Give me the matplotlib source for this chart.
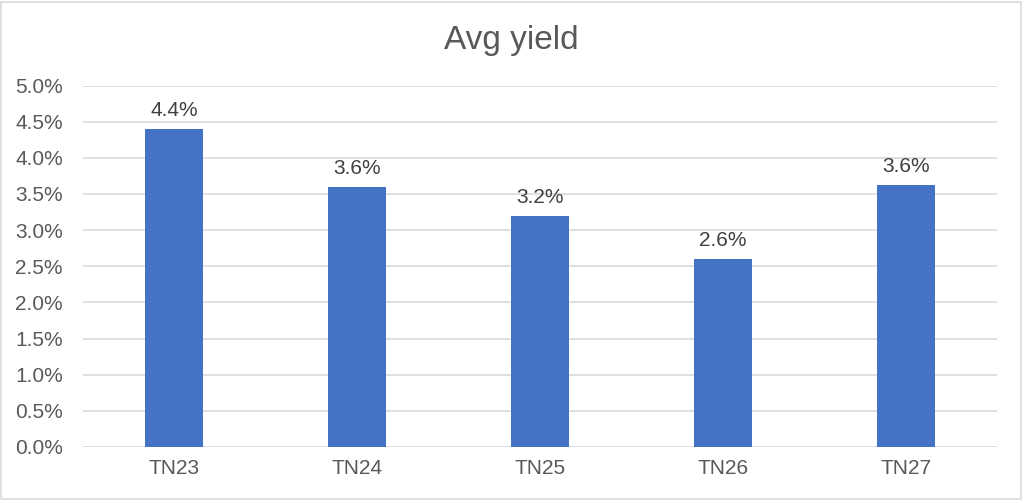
import matplotlib
matplotlib.use("Agg")
import matplotlib.pyplot as plt
from matplotlib.patches import Rectangle
from matplotlib.ticker import PercentFormatter

categories = ["TN23", "TN24", "TN25", "TN26", "TN27"]
values = [4.40, 3.60, 3.20, 2.60, 3.63]
labels = ["4.4%", "3.6%", "3.2%", "2.6%", "3.6%"]

plt.rcParams['font.family'] = ['Liberation Sans', 'DejaVu Sans']
fig = plt.figure(figsize=(10.23, 5.0), dpi=100)
ax = fig.add_axes([83/1023, 1-447/500, (997-83)/1023, (447-85.5)/500])

x = range(len(categories))
ax.bar(x, values, width=0.317, color="#4472C4", zorder=3)
for xi, v, lab in zip(x, values, labels):
    ax.text(xi, v + 0.12, lab, ha="center", va="bottom", fontsize=15, color="#404040")

ax.set_xlim(-0.5, len(categories) - 0.5)
ax.set_ylim(0, 5.0)
ax.set_yticks([i * 0.5 for i in range(11)])
ax.yaxis.set_major_formatter(PercentFormatter(decimals=1))
ax.set_xticks(list(x))
ax.set_xticklabels(categories)
ax.tick_params(axis="both", length=0, labelsize=15, labelcolor="#595959")
ax.tick_params(axis="y", pad=14.5)
ax.tick_params(axis="x", pad=9)
ax.grid(axis="y", color="#D9D9D9", linewidth=1.2, zorder=0)
for s in ax.spines.values():
    s.set_visible(False)

fig.text(0.5, 1 - 40/500, "Avg yield", ha="center", va="center", fontsize=24, color="#595959")
fig.patches.append(Rectangle((1/1023, 1/500), 1020/1023, 497/500, transform=fig.transFigure,
                             fill=False, edgecolor="#D9D9D9", linewidth=1.2))

fig.savefig("out.png", dpi=100)
